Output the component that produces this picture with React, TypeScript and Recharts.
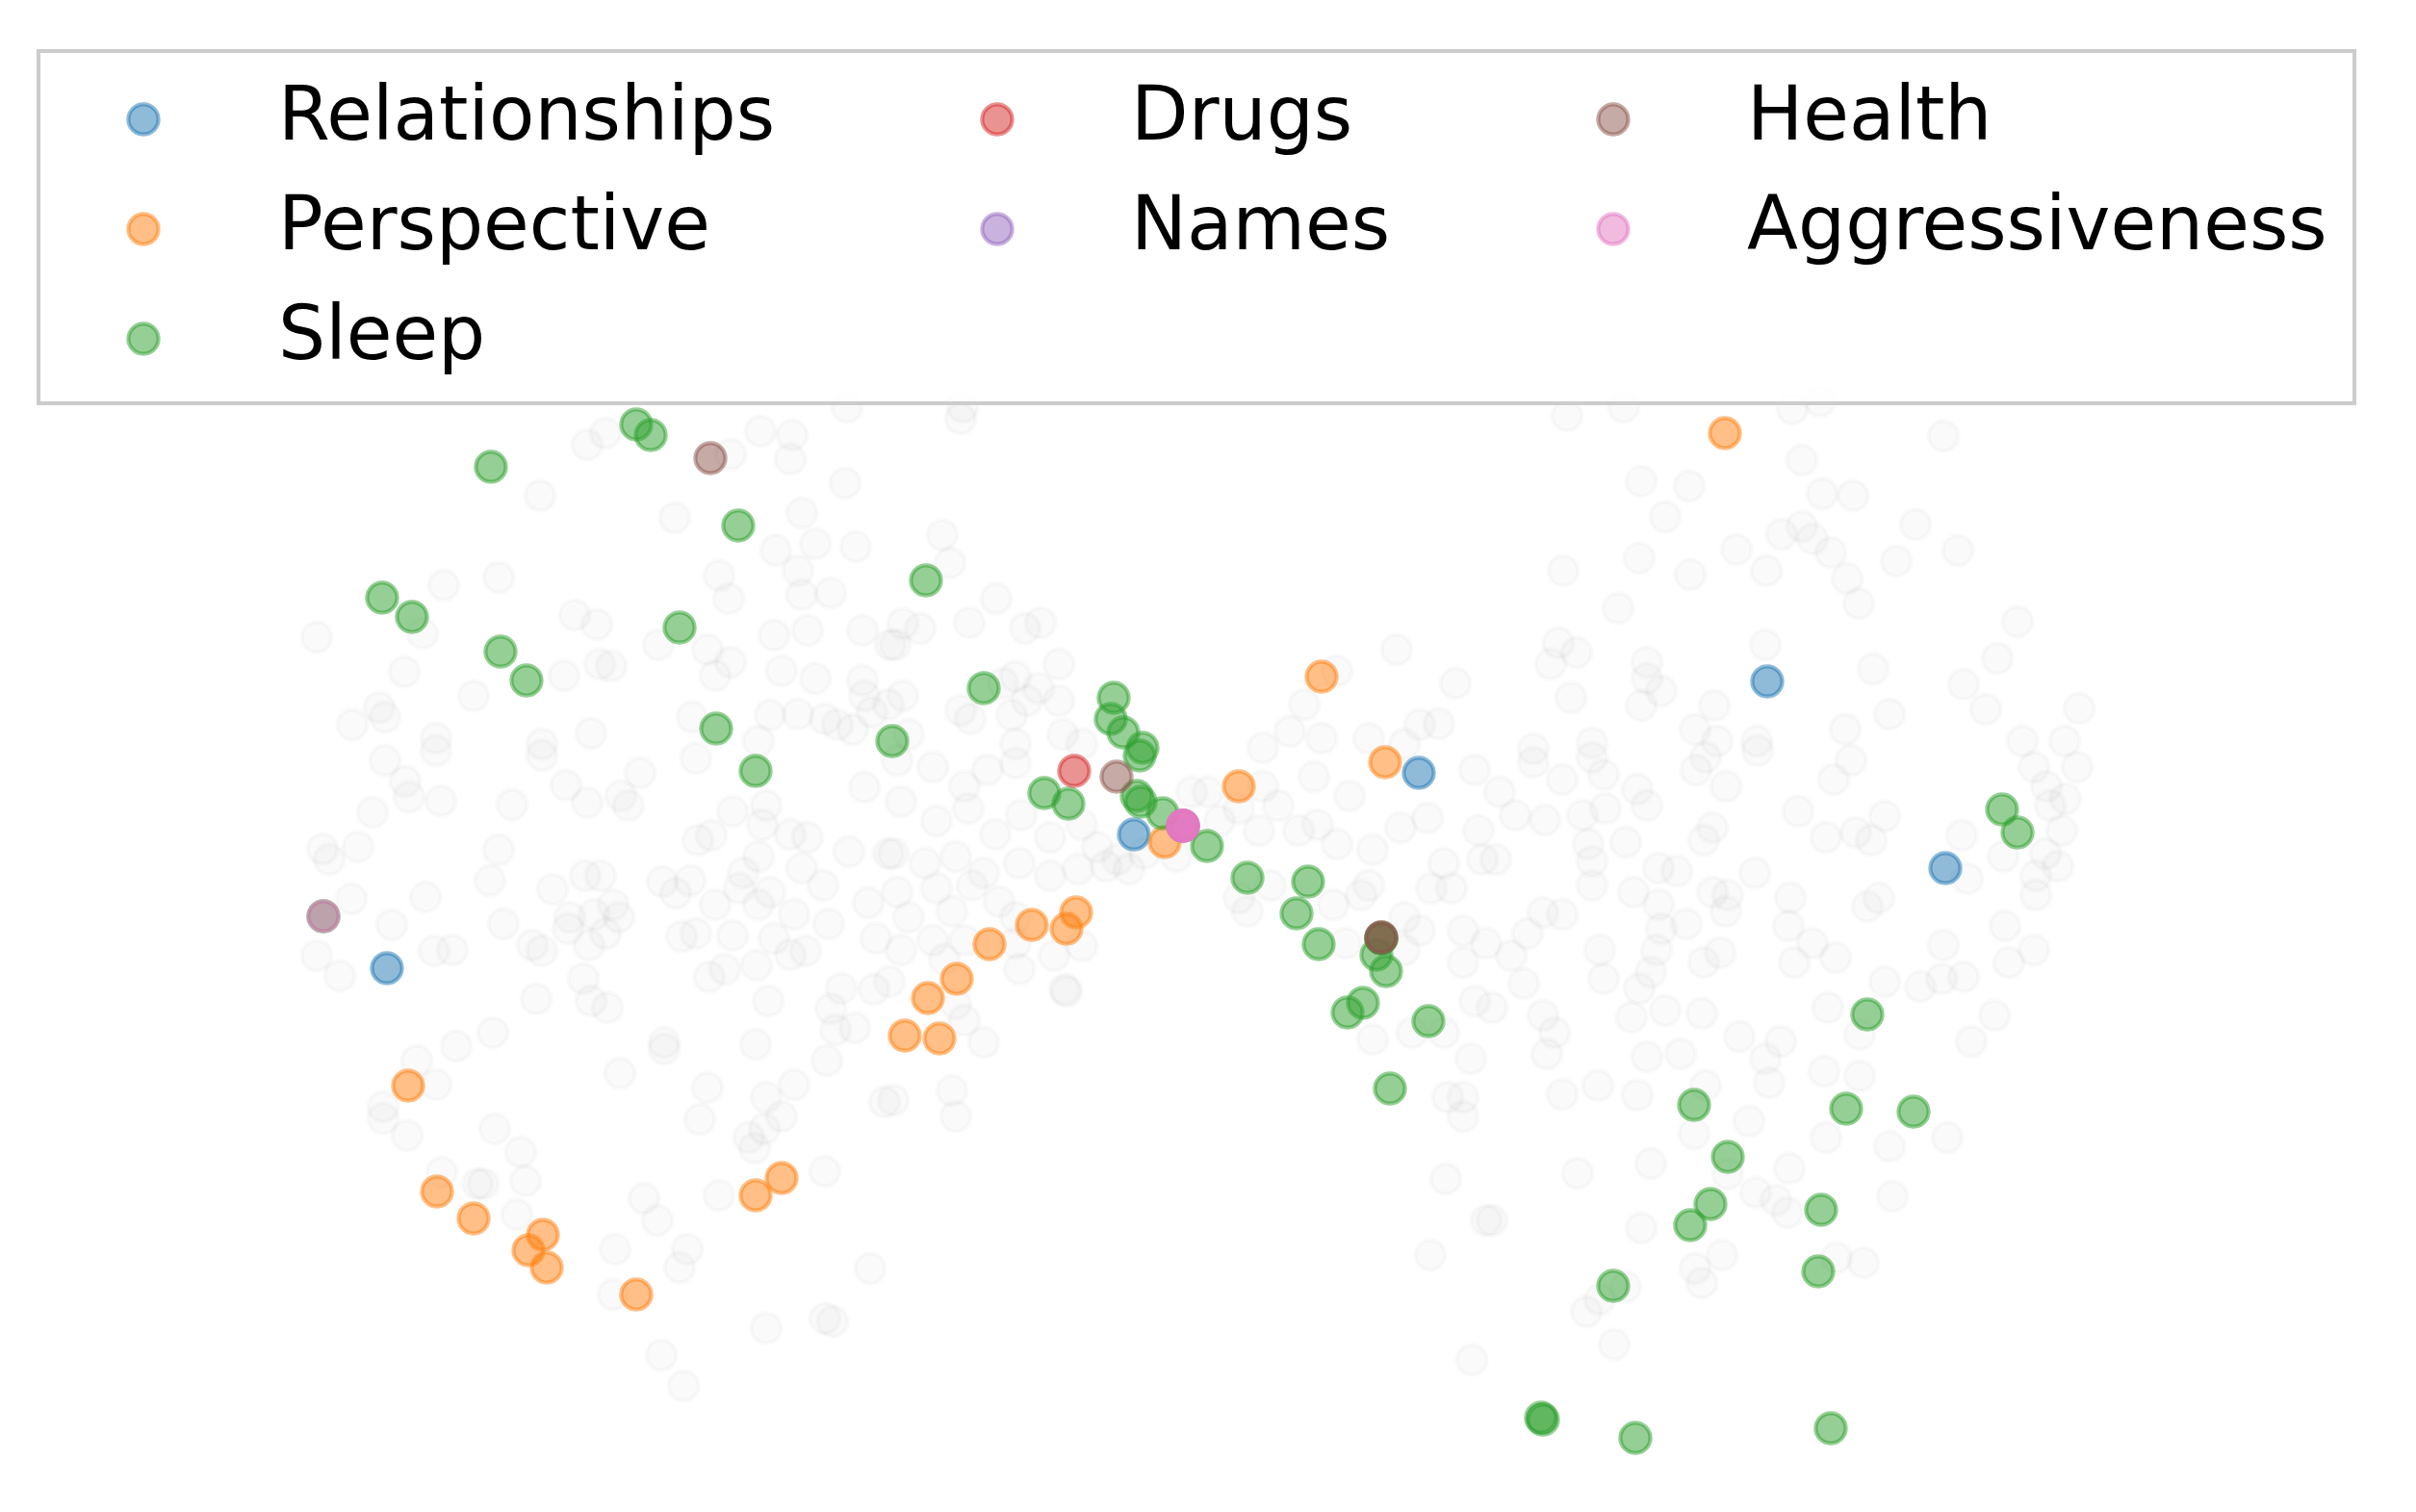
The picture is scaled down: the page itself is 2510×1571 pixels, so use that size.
import { Legend, Scatter, ScatterChart, XAxis, YAxis } from 'recharts';

document.body.style.margin = '0';

const W = 2510;
const H = 1571;

// point positions (no axes in the original, so plain pixel units)
const backgroundPoints: number[][] = [
    [880, 423], [629, 450], [610, 462], [790, 448], [823, 452], [759, 472], [821, 477], [878, 502], [561, 515], [701, 538],
    [833, 533], [806, 572], [847, 565], [889, 568], [829, 593], [747, 598], [757, 622], [833, 618], [863, 616], [461, 608],
    [518, 600], [329, 662], [439, 658], [597, 639], [620, 649], [896, 655], [804, 660], [839, 655], [925, 670], [684, 670],
    [735, 675], [759, 688], [743, 702], [420, 698], [492, 723], [586, 702], [623, 690], [635, 692], [812, 697], [847, 705],
    [896, 707], [898, 723], [923, 732], [394, 735], [400, 745], [366, 753], [453, 767], [614, 762], [719, 745], [800, 743],
    [829, 742], [857, 747], [870, 753], [886, 758], [906, 740], [563, 773], [788, 770],
    [1000, 423], [998, 435], [979, 556], [987, 585], [1035, 622], [938, 648], [956, 653], [1007, 647], [1065, 653], [1081, 647],
    [930, 670], [1100, 690], [938, 723], [998, 738], [1008, 747], [1042, 710], [1055, 703], [1051, 743], [1067, 728], [1079, 715],
    [1100, 728], [1104, 763], [944, 763], [1055, 773], [1124, 773], [1451, 675], [1389, 697], [1355, 732], [1512, 710], [1340, 760],
    [1373, 767], [1422, 767], [1475, 753], [1495, 752], [1312, 777], [1459, 773],
    [1628, 432], [1687, 423], [1862, 425], [1891, 417], [2019, 453], [1872, 478], [1705, 500], [1755, 505], [1893, 513], [1925, 515],
    [1730, 537], [1990, 545], [1851, 555], [1872, 547], [1883, 560], [1902, 574], [1804, 571], [1703, 580], [1624, 593], [1756, 597],
    [1835, 593], [1970, 583], [2034, 572], [1919, 601], [1931, 627], [1681, 632], [2096, 646], [1619, 668], [1638, 678], [1611, 690],
    [1834, 670], [1711, 688], [1711, 705], [1726, 718], [1632, 725], [1705, 733], [1946, 695], [2075, 684], [2040, 711], [2063, 737],
    [2160, 736], [1963, 742], [1917, 758], [1781, 733], [1761, 758], [1784, 770], [1825, 770], [1654, 772], [1593, 778], [2101, 770],
    [2145, 770],
    [400, 790], [453, 780], [563, 785], [723, 788], [421, 812], [425, 828], [458, 832], [387, 844], [532, 836], [588, 816],
    [610, 834], [645, 827], [653, 837], [665, 803], [335, 882], [342, 893], [372, 880], [518, 883], [509, 915], [365, 934],
    [442, 932], [407, 961], [329, 993], [353, 1014], [451, 988], [470, 987], [523, 960], [574, 924], [608, 910], [624, 910],
    [592, 953], [617, 950], [637, 940], [643, 953], [590, 965], [629, 970], [612, 982], [553, 982], [563, 988], [688, 916],
    [702, 928], [717, 915], [743, 940], [725, 873], [739, 868], [761, 843], [796, 837], [792, 857], [821, 867], [839, 870],
    [788, 890], [772, 907], [833, 902], [855, 920], [800, 927], [768, 923], [788, 940], [825, 950], [861, 960], [723, 970],
    [708, 973], [761, 972], [804, 975], [837, 988], [821, 992], [882, 885], [898, 818], [923, 887], [902, 938], [910, 975],
    [786, 1003], [753, 1007], [737, 1015], [798, 1040], [874, 1027], [908, 1028], [863, 1048], [888, 1068], [868, 1070], [859, 1102],
    [785, 1085], [690, 1090], [690, 1083], [644, 1115], [606, 1017], [557, 1038], [614, 1040], [631, 1047], [512, 1073], [474, 1087],
    [433, 1102], [453, 1127], [398, 1150], [735, 1130], [796, 1140], [825, 1127], [919, 1145],
    [932, 790], [969, 797], [1002, 817], [1026, 800], [1055, 793], [936, 833], [973, 853], [1006, 840], [1034, 867], [1061, 847],
    [1091, 870], [1124, 857], [1140, 880], [928, 887], [961, 897], [993, 890], [1022, 907], [1059, 897], [1091, 910], [1120, 903],
    [1161, 893], [1189, 887], [932, 927], [973, 923], [1010, 920], [1038, 937], [1055, 953], [989, 947], [944, 953], [969, 977],
    [1002, 977], [1055, 980], [936, 987], [981, 997], [1059, 1007], [1095, 993], [1124, 983], [1108, 1030], [924, 1020], [993, 1043],
    [1002, 1060], [1022, 1083], [989, 1133], [928, 1143], [1255, 823], [1287, 840], [1312, 817], [1328, 837], [1365, 807], [1402, 827],
    [1369, 857], [1349, 863], [1389, 877], [1426, 883], [1455, 860], [1483, 850], [1500, 897], [1532, 800], [1536, 863], [1540, 893],
    [1508, 923], [1487, 923], [1422, 920], [1385, 940], [1414, 930], [1320, 920], [1287, 933], [1296, 947], [1459, 953], [1475, 967],
    [1520, 967], [1544, 980], [1520, 1000], [1459, 987], [1398, 980], [1532, 1040], [1500, 1073], [1467, 1073], [1426, 1080], [1528, 1100],
    [1504, 1140], [1520, 1140], [1308, 863], [1267, 853], [1238, 823], [1222, 890], [1173, 903], [1149, 900], [1106, 1028],
    [1593, 792], [1623, 810], [1666, 805], [1654, 787], [1762, 800], [1772, 787], [1793, 817], [1826, 780], [1905, 810], [1923, 790],
    [2113, 797], [2158, 797], [2126, 817], [2146, 830], [2130, 837], [1558, 823], [1574, 847], [1605, 852], [1644, 847], [1668, 840],
    [1701, 820], [1711, 837], [1650, 877], [1689, 875], [1779, 860], [1770, 873], [1868, 843], [1897, 870], [1928, 865], [1944, 873],
    [1958, 848], [2038, 868], [2142, 863], [2081, 890], [2125, 887], [2138, 900], [2115, 910], [2115, 930], [2044, 913], [1554, 893],
    [1654, 895], [1654, 920], [1723, 902], [1742, 905], [1823, 907], [1697, 927], [1779, 927], [1795, 930], [1793, 947], [1860, 933],
    [1940, 942], [1952, 933], [1603, 948], [1623, 950], [1723, 940], [1752, 960], [1726, 965], [1587, 970], [1570, 993], [1662, 987],
    [1721, 987], [1770, 1000], [1787, 990], [1858, 962], [1883, 980], [1864, 1000], [1907, 995], [2019, 982], [2083, 962], [2113, 987],
    [2087, 1000], [1583, 1022], [1666, 1017], [1715, 1010], [1703, 1027], [1958, 1020], [1995, 1025], [2017, 1017], [2040, 1015], [1550, 1047],
    [1603, 1055], [1615, 1073], [1607, 1095], [1695, 1057], [1730, 1050], [1768, 1053], [1899, 1047], [1932, 1075], [1807, 1077], [1850, 1082],
    [1834, 1100], [1711, 1098], [1746, 1095], [1895, 1113], [1932, 1118], [2072, 1055], [2048, 1082], [1623, 1137], [1660, 1128], [1701, 1138],
    [1772, 1128], [1838, 1125],
    [398, 1162], [423, 1180], [514, 1173], [541, 1197], [459, 1218], [496, 1230], [502, 1230], [546, 1227], [537, 1262], [669, 1245],
    [683, 1268], [639, 1298], [714, 1298], [706, 1317], [637, 1345], [727, 1163], [778, 1182], [794, 1173], [784, 1193], [812, 1160],
    [747, 1242], [857, 1217], [904, 1318], [796, 1380], [857, 1370], [865, 1373], [687, 1408], [710, 1440],
    [1502, 1225], [1544, 1268], [1486, 1304], [1529, 1413], [993, 1160], [1520, 1160],
    [1760, 1178], [1817, 1165], [1897, 1182], [1963, 1191], [2023, 1182], [1639, 1219], [1715, 1209], [1795, 1220], [1859, 1214], [1824, 1239],
    [1845, 1247], [1857, 1260], [1966, 1243], [1550, 1268], [1705, 1276], [1789, 1304], [1761, 1318], [1768, 1333], [1908, 1307], [1936, 1312],
    [1689, 1337], [1662, 1350], [1648, 1363], [1677, 1397],
];

const relationshipsPoints: number[][] = [[1474, 803], [1836, 708], [2021, 902], [402, 1006], [1178, 867]];

const perspectivePoints: number[][] = [
    [1792, 450], [1373, 703], [1439, 792], [1287, 817], [1210, 875], [1118, 948], [1108, 965], [1072, 961],
    [1028, 981], [994, 1017], [964, 1037], [940, 1076], [976, 1079], [424, 1128], [454, 1238], [492, 1266],
    [564, 1283], [549, 1299], [568, 1317], [661, 1345], [785, 1242], [812, 1224],
];

const sleepPoints: number[][] = [
    [661, 441], [676, 452], [510, 485], [767, 546], [397, 621], [428, 641], [520, 677], [547, 707], [706, 652], [744, 757],
    [962, 603], [1022, 715], [1157, 725], [1154, 747], [1167, 761], [1187, 777], [927, 770], [785, 801], [1184, 785], [1085, 824],
    [1110, 835], [1181, 827], [1185, 833], [1208, 845], [1254, 879], [1296, 912], [1359, 916], [1347, 949], [1370, 981], [1435, 975],
    [1435, 975], [1430, 992], [1440, 1009], [1416, 1042], [1400, 1052], [1484, 1061], [1444, 1131], [2080, 841], [2096, 865], [1940, 1054],
    [1760, 1148], [1918, 1152], [1988, 1155], [1795, 1202], [1777, 1251], [1756, 1273], [1892, 1257], [1889, 1321], [1676, 1336], [1601, 1473],
    [1603, 1475], [1699, 1494], [1902, 1484], [336, 952],
];

const drugsPoints: number[][] = [[1116, 801]];
const namesPoints: number[][] = [[1229, 858]];
const healthPoints: number[][] = [[738, 476], [1160, 807], [1435, 974], [1435, 974]];
const aggressivenessPoints: number[][] = [[1229, 858], [1229, 858], [1229, 858], [1229, 858], [336, 952]];

const categories = ['Relationships', 'Perspective', 'Sleep', 'Drugs', 'Names', 'Health', 'Aggressiveness'];
const categoryColors = ['#1f77b4', '#ff7f0e', '#2ca02c', '#d62728', '#9467bd', '#8c564b', '#e377c2'];
const categoryPoints = [
    relationshipsPoints, perspectivePoints, sleepPoints, drugsPoints, namesPoints, healthPoints, aggressivenessPoints,
];

const toRows = (pts: number[][]) => pts.map(([x, y]) => ({ x, y }));

const R = 15.6;
const EDGE = 4.2;

function dot(color: string, alpha: number) {
    return (props: any) => (
        <circle
            cx={props.cx}
            cy={props.cy}
            r={R}
            fill={color}
            fillOpacity={alpha}
            stroke={color}
            strokeOpacity={alpha}
            strokeWidth={EDGE}
        />
    );
}

// legend layout: 3 columns, filled column by column like matplotlib's ncol=3
const legendMarkerX = [149, 1036, 1676];
const legendTextX = [289, 1175, 1815];
const legendRowY = [124, 238, 352];

function LegendBox() {
    return (
        <svg width={W} height={440} style={{ display: 'block' }}>
            <rect x={40} y={53} width={2406} height={366} fill="#ffffff" fillOpacity={0.8} stroke="#cccccc" strokeWidth={4} />
            {categories.map((name, i) => {
                const col = i < 3 ? 0 : i < 5 ? 1 : 2;
                const row = i < 3 ? i : i < 5 ? i - 3 : i - 5;
                const cy = legendRowY[row];
                return (
                    <g key={name}>
                        <circle
                            cx={legendMarkerX[col]}
                            cy={cy}
                            r={R}
                            fill={categoryColors[i]}
                            fillOpacity={0.5}
                            stroke={categoryColors[i]}
                            strokeOpacity={0.5}
                            strokeWidth={EDGE}
                        />
                        <text x={legendTextX[col]} y={cy + 21} fontFamily="DejaVu Sans" fontSize={77.5} fill="#000000">
                            {name}
                        </text>
                    </g>
                );
            })}
        </svg>
    );
}

export default function App() {
    return (
        <div style={{ width: W, height: H, background: '#ffffff' }}>
            <ScatterChart width={W} height={H} margin={{ top: 0, right: 0, bottom: 0, left: 0 }}>
                <XAxis type="number" dataKey="x" domain={[0, W]} hide />
                <YAxis type="number" dataKey="y" domain={[0, H]} reversed hide />
                <Scatter name="other" data={toRows(backgroundPoints)} shape={dot('#808080', 0.045)} isAnimationActive={false} />
                {categories.map((name, i) => (
                    <Scatter
                        key={name}
                        name={name}
                        data={toRows(categoryPoints[i])}
                        shape={dot(categoryColors[i], 0.5)}
                        isAnimationActive={false}
                    />
                ))}
                <Legend
                    layout="horizontal"
                    verticalAlign="middle"
                    align="center"
                    content={() => <LegendBox />}
                    wrapperStyle={{ left: 0, top: 0, width: W, height: 440 }}
                />
            </ScatterChart>
        </div>
    );
}
